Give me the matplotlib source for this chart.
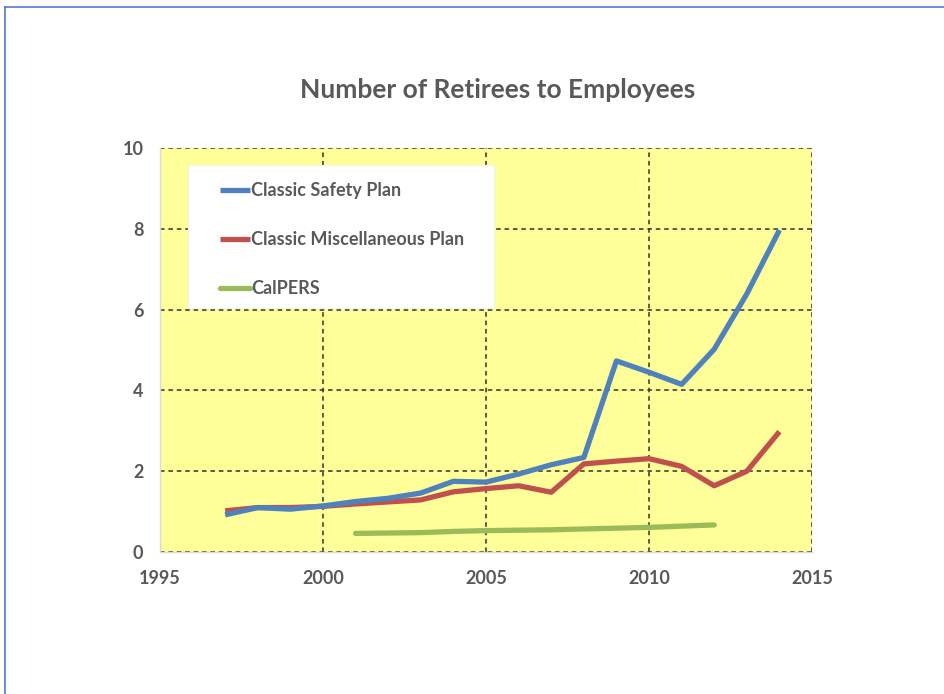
import matplotlib.pyplot as plt
from matplotlib.lines import Line2D
from matplotlib.patches import Rectangle

# Data
years = list(range(1997, 2015))
safety = [0.92, 1.10, 1.06, 1.14, 1.25, 1.33, 1.46, 1.75, 1.73, 1.93,
          2.16, 2.34, 4.73, 4.45, 4.15, 5.02, 6.39, 7.97]
misc = [1.02, 1.10, 1.10, 1.13, 1.19, 1.24, 1.29, 1.49, 1.57, 1.64,
        1.48, 2.18, 2.25, 2.31, 2.12, 1.64, 2.00, 2.98]
calpers_years = list(range(2001, 2013))
calpers = [0.46, 0.47, 0.48, 0.51, 0.53, 0.54, 0.55, 0.57, 0.59, 0.61, 0.64, 0.67]

x_ticks = [1995, 2000, 2005, 2010, 2015]
y_ticks = [0, 2, 4, 6, 8, 10]

plt.rcParams['font.family'] = ['Lato', 'DejaVu Sans']
text_gray = '#595959'

fig = plt.figure(figsize=(9.45, 6.94), dpi=100)
fig.patch.set_facecolor('white')

# outer frame: only the left and top edges are visible in the crop
frame_col = '#4F7AC8'
fig.lines.append(Line2D([0.005, 0.005], [0.0, 0.990], transform=fig.transFigure,
                        color=frame_col, lw=1.2))
fig.lines.append(Line2D([0.005, 1.0], [0.990, 0.990], transform=fig.transFigure,
                        color=frame_col, lw=1.2))

ax = fig.add_axes([0.1693, 0.2046, 0.6900, 0.5821])
ax.set_facecolor('#FFFF99')

ax.plot(years, safety, color='#4F81BD', lw=3.8, label='Classic Safety Plan',
        solid_capstyle='butt', zorder=4)
ax.plot(years, misc, color='#C0504D', lw=3.8, label='Classic Miscellaneous Plan',
        solid_capstyle='butt', zorder=3)
ax.plot(calpers_years, calpers, color='#9BBB59', lw=3.8, label='CalPERS',
        solid_capstyle='round', zorder=3)

ax.set_xlim(1995, 2015)
ax.set_ylim(0, 10)
ax.set_xticks(x_ticks)
ax.set_yticks(y_ticks)
ax.grid(True, color='#333333', linestyle=(0, (3, 2.5)), lw=1.1)
ax.set_axisbelow(True)
ax.tick_params(length=0, labelsize=13, labelcolor=text_gray, pad=13)
ax.tick_params(axis='y', pad=12)
for lab in ax.get_xticklabels() + ax.get_yticklabels():
    lab.set_fontweight('bold')

for side in ['top', 'right']:
    ax.spines[side].set_visible(False)
for side in ['left', 'bottom']:
    ax.spines[side].set_color('#D9D9D9')
    ax.spines[side].set_linewidth(1)

fig.text(0.527, 0.870, 'Number of Retirees to Employees', ha='center', va='center',
         fontsize=19, fontweight='bold', color=text_gray)

# white legend box
ax.add_patch(Rectangle((0.0429, 0.604), 0.469, 0.354, transform=ax.transAxes,
                       facecolor='white', edgecolor='#F2F2F2', lw=0.8, zorder=5))
leg = ax.legend(loc='upper left', bbox_to_anchor=(0.092, 0.916), borderaxespad=0,
                frameon=False, fontsize=13, labelspacing=1.78, handlelength=1.66,
                handletextpad=0.05, borderpad=0)
for t in leg.get_texts():
    t.set_fontweight('bold')
    t.set_color(text_gray)
leg.set_zorder(6)

fig.savefig('out.png', dpi=100)
